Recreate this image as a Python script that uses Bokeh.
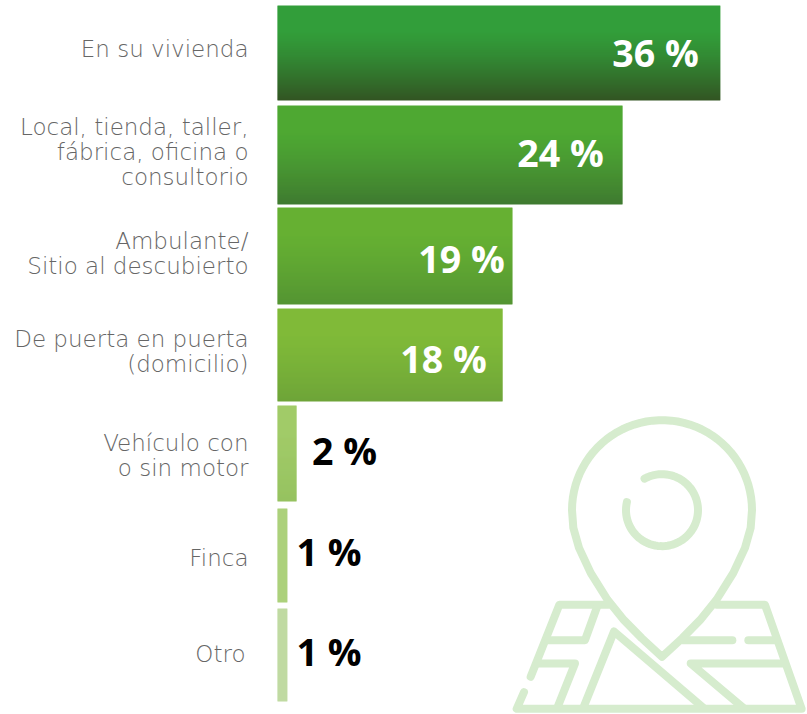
from bokeh.plotting import figure
from bokeh.models import Range1d
from bokeh.core.properties import value
from bokeh.embed import file_html
from bokeh.resources import INLINE
import math

# --- data ---
categories = [
    ["En su vivienda"],
    ["Local, tienda, taller,", "fábrica, oficina o", "consultorio"],
    ["Ambulante/", "Sitio al descubierto"],
    ["De puerta en puerta", "(domicilio)"],
    ["Vehículo con", "o sin motor"],
    ["Finca"],
    ["Otro"],
]
value_labels = ["36 %", "24 %", "19 %", "18 %", "2 %", "1 %", "1 %"]
# lengths of the drawn bars, in label percent units (the drawing is not strictly proportional)
bar_lengths = [36.0, 28.05, 19.1, 18.3, 1.55, 0.8, 0.8]

# --- layout and style ---
W, H = 807, 714
PX_PER_UNIT = 12.3
ZERO_PX = 277
BAR_SPANS = [(5, 100), (105, 204), (207, 304), (308, 401), (405, 501), (508, 602), (608, 701)]
TOP_COL = ["#339e3a", "#4ea833", "#66b033", "#80ba38", "#9cc860", "#a8ce74", "#bdd99d"]
BOT_COL = ["#325523", "#3f7a30", "#549433", "#6ea438", "#90bf58", "#a8ce74", "#bdd99d"]
LABEL_Y = [48, 151, 253, 351, 455, 557, 653]
LABEL_RIGHT = [248, 248, 248, 248, 248, 248, 245]
VALUE_X = [655, 560, 461, 443, 344, 328.5, 328.5]
VALUE_Y = [51.5, 151.5, 257.5, 357.5, 450, 551, 651]
VALUE_COL = ["white", "white", "white", "white", "black", "black", "black"]
LINE_H = 25
ICON = "#d6ecce"


def lerp(a, b, t):
    ca = [int(a[i:i + 2], 16) for i in (1, 3, 5)]
    cb = [int(b[i:i + 2], 16) for i in (1, 3, 5)]
    return "#%02x%02x%02x" % tuple(round(x + (y - x) * t) for x, y in zip(ca, cb))


p = figure(width=W, height=H, output_backend="svg", toolbar_location=None,
           x_range=Range1d(-ZERO_PX / PX_PER_UNIT, (W - ZERO_PX) / PX_PER_UNIT),
           y_range=Range1d(H, 0), min_border=0,
           outline_line_color=None, background_fill_color="white", border_fill_color="white")
p.xaxis.visible = False
p.yaxis.visible = False
p.grid.visible = False
p.extra_x_ranges["px"] = Range1d(0, W)

# bars: vertical gradient built from thin strips
for length, (y0, y1), c0, c1 in zip(bar_lengths, BAR_SPANS, TOP_COL, BOT_COL):
    n = int(y1 - y0)
    tops = [y0 + (y1 - y0) * k / n for k in range(n)]
    bots = [min(y1, t + (y1 - y0) / n + 0.4) for t in tops]
    cols = [lerp(c0, c1, (max(0, k / (n - 1) - 0.25) / 0.75) ** 1.3) for k in range(n)]
    p.quad(left=[0] * n, right=[length] * n, top=tops, bottom=bots, fill_color=cols, line_color=None)

# category labels
xs, ys, ts = [], [], []
for lines, y, r in zip(categories, LABEL_Y, LABEL_RIGHT):
    for i, t in enumerate(lines):
        xs.append(r)
        ys.append(y + (i - (len(lines) - 1) / 2) * LINE_H)
        ts.append(t)
p.text(x=xs, y=ys, text=ts, x_range_name="px", text_align="right", text_baseline="middle",
       text_font=value("DejaVu Sans Light"), text_font_size="23px", text_color="#666666")

# value labels
p.text(x=VALUE_X, y=VALUE_Y, text=value_labels, x_range_name="px", text_align="center", text_baseline="middle",
       text_font=value("Open Sans"), text_font_style="bold", text_font_size="37.5px", text_color=VALUE_COL)

# location pin and map icon (decorative)
ix = lambda v: 499.5 + v / 3
iy = lambda v: 399 + v / 3
S = dict(x_range_name="px", line_color=ICON, line_width=8, line_cap="round", line_join="round")


def poly(pts):
    p.line(x=[ix(a) for a, b in pts], y=[iy(b) for a, b in pts], **S)


# pin outline: circular head, tapered to the tip
cx, cy, R = 486, 332, 270
head = [(cx + R * math.cos(math.radians(d)), cy + R * math.sin(math.radians(d))) for d in range(180, 361, 4)]
right_side = [(752, 385), (735, 445), (700, 520), (650, 600), (600, 662), (547, 716), (486, 772)]
left_side = [(425, 716), (372, 662), (322, 600), (272, 520), (237, 445), (220, 385)]
poly([(220, 385)] + head + right_side + left_side)
# inner ring with a gap
ring = [(486 + 108 * math.cos(math.radians(d)), 332 + 108 * math.sin(math.radians(d))) for d in range(-119, 196, 4)]
poly(ring)
# map outline and streets
poly([(325, 616), (178, 616), (92, 832)])
poly([(72, 878), (50, 928), (905, 928), (795, 616), (650, 616)])
poly([(292, 620), (255, 722), (145, 722)])
poly([(115, 792), (225, 792), (172, 925)])
poly([(250, 925), (342, 696), (610, 925)])
poly([(548, 722), (697, 722)])
poly([(745, 722), (830, 722)])
poly([(855, 792), (572, 792), (730, 925)])

open("out.html", "w").write(file_html(p, INLINE))
